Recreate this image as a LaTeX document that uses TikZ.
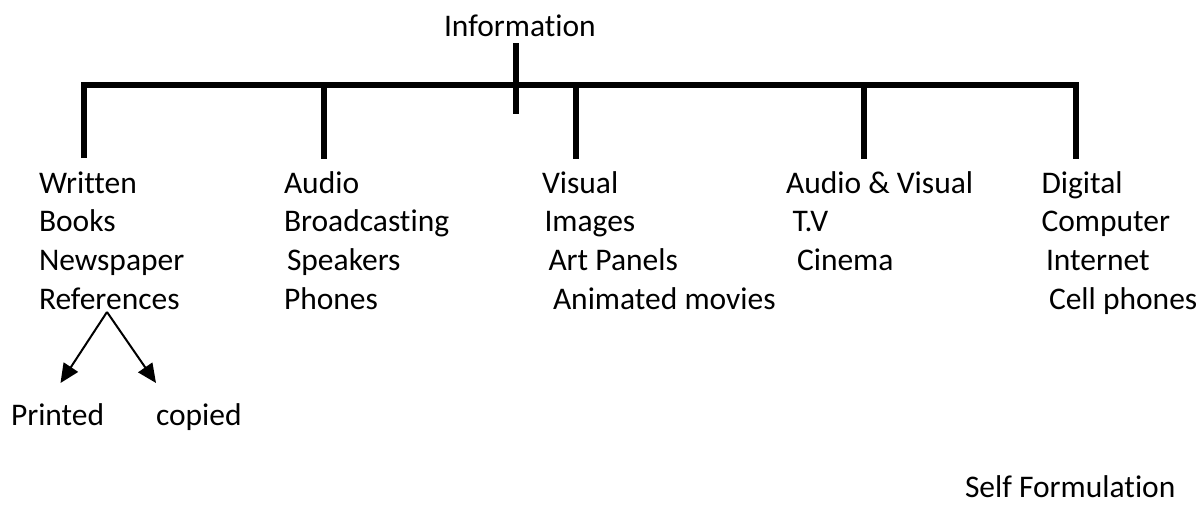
\documentclass[tikz,border=0pt]{standalone}
\usepackage{fontspec}
\setmainfont{Carlito}[Ligatures={NoCommon,NoRequired,NoContextual}]
\usetikzlibrary{arrows.meta}
\begin{document}
\begin{tikzpicture}[x=1pt,y=-1pt,
  txt/.style={inner sep=0pt,outer sep=0pt,anchor=base west,font=\fontsize{31.5}{38}\selectfont},
  bar/.style={line width=6pt,line join=miter},
  arr/.style={line width=2pt,-{Triangle[length=19pt,width=17pt]}}]
\useasboundingbox (0,0) rectangle (1204,506);
% title
\node[txt] (info) at (444,36) {Information};
% tree bars
\coordinate (top) at (516,43);
\coordinate (mid) at (516,114);
\coordinate (c1) at (84,158);
\coordinate (c2) at (323.5,159);
\coordinate (c3) at (576,159);
\coordinate (c4) at (863.5,159);
\coordinate (c5) at (1075.5,159);
\draw[bar] (c1) -- (84,85) -- (1075.5,85) -- (c5);
\draw[bar] (top) -- (mid);
\draw[bar] (323.5,85) -- (c2);
\draw[bar] (576,85) -- (c3);
\draw[bar] (863.5,85) -- (c4);
% column 1
\node[txt] (w1) at (39,193) {Written};
\node[txt] (w2) at (39,231.5) {Books};
\node[txt] (w3) at (39,270) {Newspaper};
\node[txt] (w4) at (39,309) {References};
% column 2
\node[txt] (a1) at (284,193) {Audio};
\node[txt] (a2) at (284,231.5) {Broadcasting};
\node[txt] (a3) at (287,270) {Speakers};
\node[txt] (a4) at (284,309) {Phones};
% column 3
\node[txt] (v1) at (542,193) {Visual};
\node[txt] (v2) at (544.5,231.5) {Images};
\node[txt] (v3) at (548.5,270) {Art Panels};
\node[txt] (v4) at (553,309) {Animated movies};
% column 4
\node[txt] (av1) at (786,193) {Audio \& Visual};
\node[txt] (av2) at (792.5,231.5) {T.V};
\node[txt] (av3) at (797,270) {Cinema};
% column 5
\node[txt] (d1) at (1041.5,193) {Digital};
\node[txt] (d2) at (1041.5,231.5) {Computer};
\node[txt] (d3) at (1046,270) {Internet};
\node[txt] (d4) at (1049,309) {Cell phones};
% sub branches
\coordinate (apex) at (107,312);
\coordinate (pend) at (60.5,383);
\coordinate (cend) at (156,383);
\draw[arr] (apex) -- (pend);
\draw[arr] (apex) -- (cend);
\node[txt] (printed) at (11,425) {Printed};
\node[txt] (copied) at (156,425) {copied};
% footer
\node[txt] (self) at (965,497) {Self Formulation};
\end{tikzpicture}
\end{document}
